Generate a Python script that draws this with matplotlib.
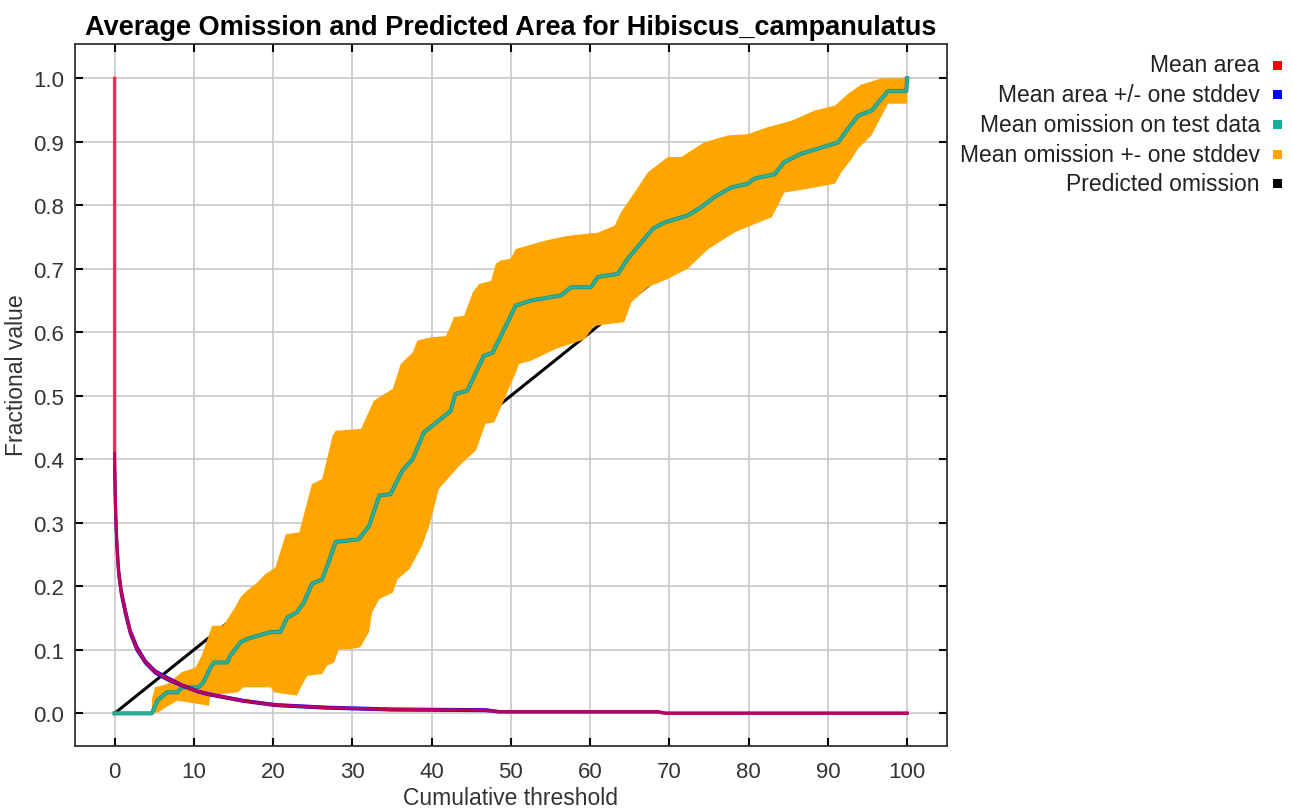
import numpy as np
import matplotlib.pyplot as plt
from matplotlib.patches import Rectangle

plt.rcParams['font.family'] = ['Liberation Sans', 'DejaVu Sans']

# mean omission on test data
om_x = [0, 4.7, 5.4, 6.6, 7.9, 8.5, 10.6, 11.2, 12.1, 12.5, 14.2, 14.6, 15.9, 16.7, 18.0, 19.7, 20.9,
        21.8, 23.0, 23.9, 24.9, 26.2, 27.0, 27.9, 30.8, 32.1, 33.4, 34.8, 36.3, 37.6, 39.0, 40.1, 42.4,
        43.0, 44.5, 46.6, 47.7, 49.6, 50.6, 52.5, 56.3, 57.6, 60.1, 60.95, 63.5, 64.7, 67.9, 69.4, 72.3,
        74.0, 75.7, 77.8, 79.9, 80.7, 83.3, 84.5, 86.6, 89.2, 91.3, 92.5, 93.8, 95.5, 97.6, 99.9, 100]
om_y = [0, 0, 0.02, 0.033, 0.033, 0.041, 0.041, 0.049, 0.072, 0.080, 0.080, 0.091, 0.112, 0.117, 0.122,
        0.128, 0.128, 0.151, 0.159, 0.175, 0.204, 0.211, 0.238, 0.27, 0.274, 0.295, 0.343, 0.345, 0.382,
        0.40, 0.442, 0.453, 0.476, 0.503, 0.508, 0.563, 0.568, 0.616, 0.642, 0.650, 0.658, 0.671, 0.671,
        0.687, 0.692, 0.715, 0.763, 0.773, 0.784, 0.797, 0.813, 0.828, 0.834, 0.842, 0.849, 0.868, 0.881,
        0.891, 0.899, 0.92, 0.941, 0.949, 0.98, 0.98, 1.0]

# omission +- one stddev (upper / lower edges)
up_x = [4.7, 5.1, 6.6, 8.5, 10.2, 11.0, 12.3, 13.6, 14.0, 15.3, 15.9, 16.7, 18.0, 19.0, 20.3, 21.6, 23.3,
        24.9, 26.2, 27.5, 27.9, 31.1, 32.7, 33.4, 35.1, 36.1, 37.6, 38.2, 39.9, 41.8, 42.4, 42.8, 44.1,
        45.2, 46.0, 47.5, 48.1, 48.7, 50.0, 50.6, 54.2, 57.2, 61.0, 63.1, 63.9, 65.6, 67.3, 69.8, 71.5,
        74.4, 77.4, 79.9, 82.4, 85.4, 88.3, 90.9, 92.5, 94.2, 96.8, 100]
up_y = [0.022, 0.041, 0.046, 0.065, 0.072, 0.091, 0.138, 0.138, 0.143, 0.169, 0.183, 0.193, 0.206, 0.219,
        0.230, 0.282, 0.285, 0.361, 0.369, 0.437, 0.445, 0.448, 0.492, 0.498, 0.511, 0.55, 0.568, 0.587,
        0.592, 0.594, 0.61, 0.624, 0.626, 0.663, 0.676, 0.681, 0.708, 0.713, 0.716, 0.731, 0.744, 0.752,
        0.757, 0.768, 0.789, 0.820, 0.852, 0.876, 0.876, 0.899, 0.910, 0.912, 0.923, 0.933, 0.949, 0.957,
        0.975, 0.99, 1.0, 1.0]
lo_x = [4.7, 5.6, 6.4, 7.9, 11.9, 12.1, 13.4, 15.5, 16.3, 19.7, 20.1, 23.0, 23.5, 24.3, 26.2, 26.8, 27.7,
        28.3, 29.8, 31.0, 32.1, 32.5, 33.4, 35.1, 35.7, 37.2, 38.8, 39.7, 40.9, 43.5, 45.6, 46.8, 47.9,
        49.2, 50.8, 51.0, 52.5, 55.7, 59.3, 60.5, 64.3, 65.2, 67.3, 69.8, 72.3, 74.9, 78.2, 80.3, 82.9,
        83.7, 84.5, 87.5, 90.9, 91.7, 93.0, 93.8, 95.5, 96.8, 97.6, 100]
lo_y = [0, 0.002, 0.009, 0.02, 0.012, 0.028, 0.03, 0.033, 0.041, 0.041, 0.033, 0.028, 0.041, 0.059, 0.062,
        0.075, 0.080, 0.101, 0.101, 0.104, 0.128, 0.159, 0.18, 0.19, 0.211, 0.227, 0.264, 0.295, 0.353,
        0.39, 0.414, 0.456, 0.458, 0.495, 0.542, 0.55, 0.555, 0.574, 0.589, 0.61, 0.616, 0.647, 0.671,
        0.684, 0.70, 0.731, 0.757, 0.768, 0.781, 0.80, 0.82, 0.826, 0.834, 0.852, 0.873, 0.889, 0.910,
        0.941, 0.96, 0.96]

# mean area and +/- stddev
ar_x = [0, 0, 0.08, 0.17, 0.29, 0.5, 0.84, 1.35, 1.98, 2.82, 3.87, 5.14, 6.6, 8.5, 10.6, 11.9,
        16.1, 20.3, 26.6, 35, 46.8, 48.5, 68.5, 69.5, 100]
ar_y = [1.0, 0.40, 0.338, 0.301, 0.265, 0.223, 0.191, 0.16, 0.128, 0.102, 0.081, 0.065, 0.055, 0.044,
        0.034, 0.030, 0.020, 0.013, 0.009, 0.006, 0.005, 0.0025, 0.0025, 0.0, 0.0]
ar_hi = [0.41, 0.41, 0.345, 0.307, 0.27, 0.228, 0.195, 0.164, 0.131, 0.105, 0.083, 0.067, 0.057, 0.045,
         0.035, 0.031, 0.021, 0.014, 0.010, 0.007, 0.006, 0.003, 0.003, 0.0005, 0.0005]
ar_lo = [0.39, 0.39, 0.331, 0.295, 0.26, 0.218, 0.187, 0.156, 0.125, 0.099, 0.079, 0.063, 0.053, 0.043,
         0.033, 0.029, 0.019, 0.012, 0.008, 0.005, 0.004, 0.002, 0.002, 0.0, 0.0]

pred_x = [0, 100]
pred_y = [0, 1]

legend_names = ['Mean area', 'Mean area +/- one stddev', 'Mean omission on test data',
                'Mean omission +- one stddev', 'Predicted omission']
legend_colors = ['#ff0000', '#0000ff', '#1aaaa0', '#ffa500', '#000000']

fig = plt.figure(figsize=(12.93, 8.12), dpi=100)
ax = fig.add_axes([0.058, 0.0804, 0.6742, 0.8642])

ax.grid(True, color='#c8c8c8', linewidth=1.2)
ax.set_axisbelow(True)

ax.plot(pred_x, pred_y, color='black', linewidth=2.2, zorder=2)
ax.fill(np.concatenate([up_x, lo_x[::-1]]), np.concatenate([up_y, lo_y[::-1]]),
        color='#ffa500', linewidth=0, zorder=3)
ax.plot(om_x, om_y, color='#23977f', linewidth=3.0, zorder=4)
ax.plot(om_x, om_y, color='#2fb09a', linewidth=1.6, zorder=4)
ax.plot(ar_x[1:], ar_hi[1:], color='#0000ff', linewidth=2, zorder=5)
ax.plot(ar_x[1:], ar_lo[1:], color='#0000ff', linewidth=2, zorder=5)
ax.plot(ar_x, ar_y, color='#ee0030', linewidth=2.4, alpha=0.78, zorder=6)

ax.set_xlim(-5, 105)
ax.set_ylim(-0.051, 1.054)
ax.set_xticks(np.arange(0, 101, 10))
ax.set_yticks(np.arange(0, 1.01, 0.1))
ax.set_yticklabels([f'{v:.1f}' for v in np.arange(0, 1.01, 0.1)])
ax.tick_params(direction='in', length=6, width=1.5, top=True, right=True,
               labelsize=16, colors='black', labelcolor='#333333')
ax.tick_params(axis='x', pad=11)
ax.tick_params(axis='y', pad=8)
for s in ax.spines.values():
    s.set_linewidth(1.3)
    s.set_color('#333333')

ax.set_title('Average Omission and Predicted Area for Hibiscus_campanulatus',
             fontsize=19.5, fontweight='bold', pad=7)
ax.set_xlabel('Cumulative threshold', fontsize=16.5, color='#333333')
ax.set_ylabel('Fractional value', fontsize=16.5, color='#333333')
ax.xaxis.set_label_coords(0.5, -0.058)
ax.yaxis.set_label_coords(-0.054, 0.53)

# legend on the right, outside the axes
W, H = 1293, 812
for i, (name, col) in enumerate(zip(legend_names, legend_colors)):
    yc = 66 + i * 29.7
    fig.text(1260 / W, 1 - yc / H, name, ha='right', va='center', fontsize=16.5, color='#222222')
    fig.add_artist(Rectangle((1273 / W, 1 - (yc + 4.5) / H), 9 / W, 9 / H,
                             transform=fig.transFigure, color=col, linewidth=0))

fig.savefig('out.png', dpi=100)
